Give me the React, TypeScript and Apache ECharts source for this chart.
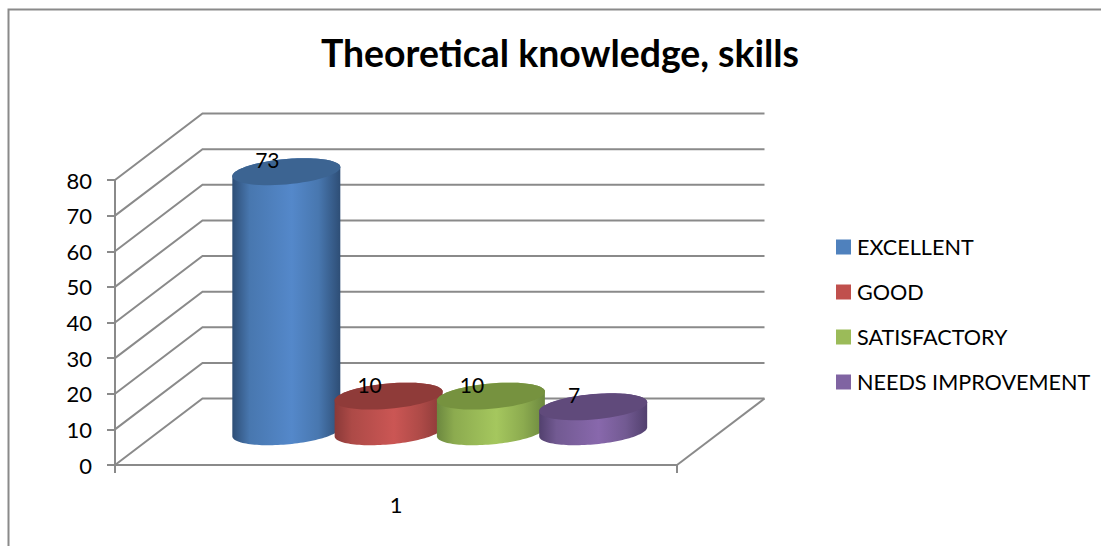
import React, { useEffect, useRef } from "react";
import * as echarts from "echarts";

const titleText = "Theoretical knowledge, skills";
const categories = ["1"];
const seriesNames = ["EXCELLENT", "GOOD", "SATISFACTORY", "NEEDS IMPROVEMENT"];
const seriesValues = [73, 10, 10, 7];
const yTicks = [0, 10, 20, 30, 40, 50, 60, 70, 80];
const baseColors = ["#4f81bd", "#c0504d", "#9bbb59", "#8064a2"];
const brightColors = ["#5488ca", "#cb5654", "#a5c75e", "#8868ac"];
const edgeColors = ["#2e4e76", "#8a3938", "#6c883f", "#52406e"];
const midColors = ["#4877af", "#ad4a47", "#8cab4f", "#725a92"];
const topColors = ["#3c6492", "#8f3b39", "#76923f", "#604a7b"];

const FONT = "Lato";
const GRAY = "#8a8a8a";
const DEPTH_X = 87.5;
const DEPTH_Y = 66.5;
const RX = 54;
const RY = 12.7;
const SKEW = 0.084;
const SPACING = 0.182;

function ellipsePoints(cx: number, cy: number, from: number, to: number) {
  const pts: number[][] = [];
  const steps = 60;
  for (let i = 0; i <= steps; i++) {
    const t = from + ((to - from) * i) / steps;
    const c = Math.cos(t);
    pts.push([cx + RX * c, cy - SKEW * RX * c + RY * Math.sin(t)]);
  }
  return pts;
}

function cylinderItem(index: number) {
  return (params: any, api: any) => {
    const sys = params.coordSys;
    const top = api.coord([api.value(0), api.value(1)]);
    const base = api.coord([api.value(0), 0]);
    const band = sys.width;
    const cx = top[0] + DEPTH_X / 2 + (index - 1.5) * band * SPACING;
    const topY = top[1] - DEPTH_Y / 2;
    const baseY = base[1] - DEPTH_Y / 2;
    // lower half of the base, then upper half of the top, closes the side wall
    const body = [
      ...ellipsePoints(cx, baseY, Math.PI, 0),
      ...ellipsePoints(cx, topY, 0, -Math.PI),
    ];
    const gradient = new echarts.graphic.LinearGradient(0, 0, 1, 0, [
      { offset: 0, color: edgeColors[index] },
      { offset: 0.16, color: midColors[index] },
      { offset: 0.55, color: brightColors[index] },
      { offset: 0.8, color: midColors[index] },
      { offset: 1, color: edgeColors[index] },
    ]);
    return {
      type: "group",
      children: [
        { type: "polygon", shape: { points: body }, style: { fill: gradient } },
        {
          type: "polygon",
          shape: { points: ellipsePoints(cx, topY, 0, 2 * Math.PI) },
          style: { fill: topColors[index] },
        },
        {
          type: "text",
          x: cx - 19,
          y: topY - 12,
          style: {
            text: String(api.value(1)),
            fill: "#000",
            font: `21px ${FONT}`,
            align: "center",
            verticalAlign: "middle",
          },
        },
      ],
    };
  };
}

function wallItem(params: any, api: any) {
  const sys = params.coordSys;
  const p = api.coord([0, api.value(1)]);
  const left = sys.x;
  const right = sys.x + sys.width;
  const children: any[] = [
    {
      type: "polyline",
      shape: {
        points: [
          [left, p[1]],
          [left + DEPTH_X, p[1] - DEPTH_Y],
          [right + DEPTH_X, p[1] - DEPTH_Y],
        ],
      },
      style: { stroke: GRAY, lineWidth: 2, fill: "none" },
    },
  ];
  if (api.value(1) === 0) {
    children.push(
      {
        type: "line",
        shape: { x1: right, y1: p[1], x2: right + DEPTH_X, y2: p[1] - DEPTH_Y },
        style: { stroke: GRAY, lineWidth: 2 },
      },
      {
        type: "line",
        shape: { x1: left, y1: p[1], x2: left, y2: p[1] + 8 },
        style: { stroke: GRAY, lineWidth: 2 },
      },
      {
        type: "line",
        shape: { x1: right, y1: p[1], x2: right, y2: p[1] + 8 },
        style: { stroke: GRAY, lineWidth: 2 },
      }
    );
  }
  return { type: "group", children };
}

export default function App() {
  const ref = useRef<HTMLDivElement>(null);
  useEffect(() => {
    document.body.style.margin = "0";
    const chart = echarts.init(ref.current!, null, { renderer: "svg" });
    chart.setOption({
      animation: false,
      backgroundColor: "#ffffff",
      title: {
        text: titleText,
        left: 555,
        top: 29,
        textAlign: "center",
        textStyle: { fontFamily: FONT, fontSize: 37.4, fontWeight: "bold", color: "#000" },
      },
      legend: {
        orient: "vertical",
        left: 836,
        top: 236,
        padding: 0,
        itemWidth: 15,
        itemHeight: 15,
        itemGap: 23,
        icon: "rect",
        selectedMode: false,
        textStyle: { fontFamily: FONT, fontSize: 21.6, color: "#000", padding: [0, 0, 0, 1] },
        data: seriesNames.map((name, i) => ({ name, itemStyle: { color: baseColors[i] } })),
      },
      grid: { left: 115, right: 424, top: 180, bottom: 81, containLabel: false },
      xAxis: {
        type: "category",
        data: categories,
        axisLine: { lineStyle: { color: GRAY, width: 2 } },
        axisTick: { show: false },
        axisLabel: { fontFamily: FONT, fontSize: 22, color: "#000", margin: 28 },
      },
      yAxis: {
        type: "value",
        min: 0,
        max: 80,
        interval: 10,
        axisLine: { show: true, lineStyle: { color: GRAY, width: 2 } },
        axisTick: { show: true, length: 8, lineStyle: { color: GRAY, width: 2 } },
        axisLabel: { fontFamily: FONT, fontSize: 22, color: "#000", margin: 23 },
        splitLine: { show: false },
      },
      series: [
        {
          type: "custom",
          name: "walls",
          silent: true,
          clip: false,
          z: 1,
          encode: { x: 0, y: 1 },
          data: yTicks.map((v) => [0, v]),
          renderItem: wallItem,
        },
        ...seriesNames.map((name, i) => ({
          type: "custom",
          name,
          silent: true,
          clip: false,
          z: 2 + i,
          itemStyle: { color: baseColors[i] },
          encode: { x: 0, y: 1 },
          data: [[0, seriesValues[i]]],
          renderItem: cylinderItem(i),
        })),
      ],
      graphic: [
        {
          type: "polyline",
          silent: true,
          shape: { points: [[8.5, 546], [8.5, 9.5], [1101, 9.5]] },
          style: { stroke: GRAY, lineWidth: 2, fill: "none" },
        },
      ],
    });
    return () => chart.dispose();
  }, []);
  return <div ref={ref} style={{ position: "fixed", left: 0, top: 0, width: 1101, height: 546 }} />;
}
